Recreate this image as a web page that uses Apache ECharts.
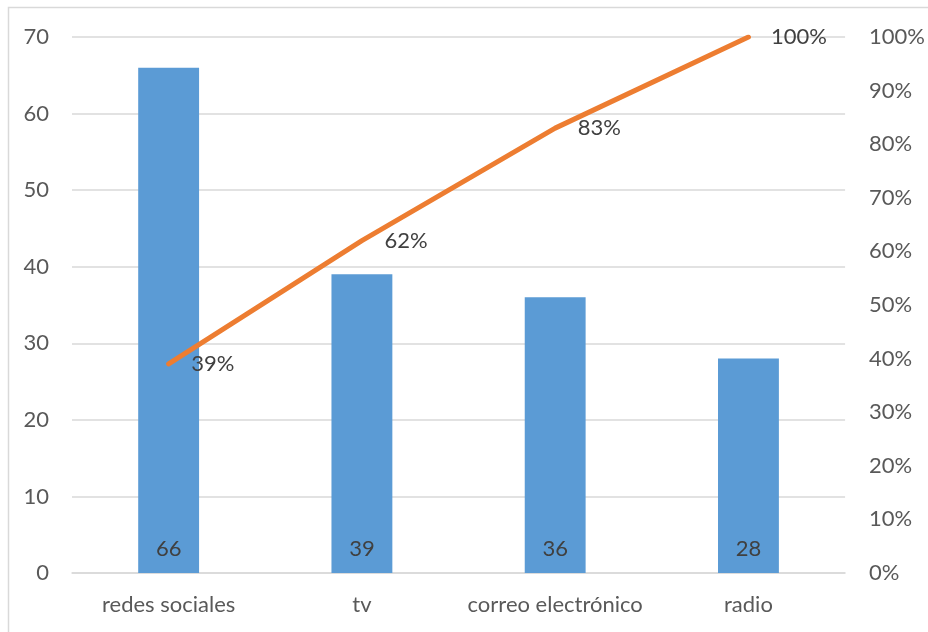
<!DOCTYPE html>
<html>
<head>
<meta charset="utf-8">
<script src="https://cdn.jsdelivr.net/npm/echarts@6/dist/echarts.min.js"></script>
<style>
  html, body { margin: 0; padding: 0; background: #fff; }
  #chart { width: 928px; height: 632px; }
</style>
</head>
<body>
<div id="chart"></div>
<script>
// Channel counts with cumulative share (Pareto)
const categories = ['redes sociales', 'tv', 'correo electrónico', 'radio'];
const counts = [66, 39, 36, 28];
const cumulativePct = [39, 62, 83, 100];

const textColor = '#595959';
const gridColor = '#D9D9D9';
const fontFamily = 'Lato, "Open Sans", sans-serif';
const fontSize = 22;

const chart = echarts.init(document.getElementById('chart'), null, { renderer: 'canvas' });

chart.setOption({
  animation: false,
  backgroundColor: '#fff',
  textStyle: { fontFamily: fontFamily },
  graphic: [{
    type: 'rect',
    shape: { x: 8.5, y: 7.5, width: 940, height: 640 },
    style: { fill: 'none', stroke: gridColor, lineWidth: 1.5 },
    silent: true
  }],
  grid: { left: 72, right: 82, top: 37, bottom: 59 },
  xAxis: {
    type: 'category',
    data: categories,
    axisTick: { show: false },
    axisLine: { lineStyle: { color: gridColor, width: 1.5 } },
    axisLabel: {
      interval: 0,
      color: textColor, fontSize: fontSize, fontFamily: fontFamily, margin: 21
    }
  },
  yAxis: [{
    type: 'value',
    min: 0, max: 70, interval: 10,
    axisLine: { show: false },
    axisTick: { show: false },
    splitLine: { lineStyle: { color: gridColor, width: 1.5 } },
    axisLabel: { color: textColor, fontSize: fontSize, fontFamily: fontFamily, margin: 23 }
  }, {
    type: 'value',
    min: 0, max: 100, interval: 10,
    position: 'right',
    axisLine: { show: false },
    axisTick: { show: false },
    splitLine: { show: false },
    axisLabel: {
      color: textColor, fontSize: fontSize, fontFamily: fontFamily, margin: 24,
      formatter: '{value}%'
    }
  }],
  series: [{
    type: 'bar',
    data: counts,
    barWidth: '31.5%',
    itemStyle: { color: '#5B9BD5' },
    label: {
      show: true,
      position: 'insideBottom',
      distance: 13,
      color: '#404040',
      fontSize: fontSize,
      fontFamily: fontFamily
    }
  }, {
    type: 'line',
    yAxisIndex: 1,
    data: cumulativePct,
    showSymbol: true,
    symbol: 'circle',
    symbolSize: 1,
    lineStyle: { color: '#ED7D31', width: 5, cap: 'round', join: 'round' },
    itemStyle: { color: 'rgba(0,0,0,0)' },
    label: {
      show: true,
      position: 'right',
      distance: 22,
      color: '#404040',
      fontSize: fontSize,
      fontFamily: fontFamily,
      formatter: '{c}%'
    }
  }]
});
</script>
</body>
</html>
